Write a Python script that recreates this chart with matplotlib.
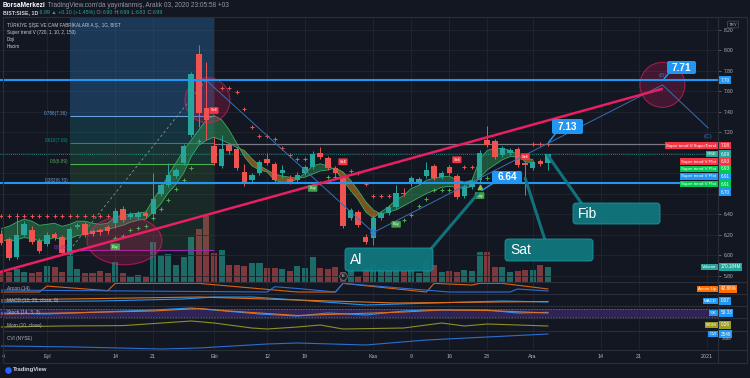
"""TradingView style snapshot: BIST:SISE daily with super trend cloud, fib and callouts."""

import numpy as np
import matplotlib
matplotlib.use("Agg")
import matplotlib.pyplot as plt
from matplotlib.patches import Ellipse, FancyBboxPatch, ConnectionPatch
from matplotlib.offsetbox import TextArea, HPacker, AnchoredOffsetbox

plt.rcParams["font.family"] = ["Liberation Sans", "DejaVu Sans"]

W, H = 750, 378
BG = "#131722"
UP, DN = "#26a69a", "#ef5350"
VOL_UP, VOL_DN = "#1d6b66", "#7f383c"
GRID = "#22262f"
TXT = "#b2b5be"
GRAY = "#9598a1"
BLUE = "#2196f3"
CALLOUT = "#10777f"
PINK = "#e91e63"

# ---- daily bars, index 0 = 1 Eylul 2020 (trading days) ----
bar_idx = list(range(-6, 67))
opens = [6.21, 6.16, 5.98, 6.20, 6.24, 6.14, 6.11, 6.21, 6.18, 6.02,
         6.27, 6.30, 6.23, 6.24, 6.27, 6.31, 6.45, 6.37, 6.37, 6.41,
         6.40, 6.60, 6.68, 6.77, 6.90, 7.17, 7.96, 7.43, 7.06, 6.87,
         7.07, 7.03, 6.81, 6.73, 6.80, 6.94, 6.89, 6.80, 6.74, 6.73,
         6.80, 6.86, 7.00, 6.95, 6.85, 6.75, 6.36, 6.42, 6.18, 6.17,
         6.36, 6.41, 6.47, 6.61, 6.69, 6.70, 6.77, 6.87, 6.76, 6.86,
         6.77, 6.58, 6.66, 6.73, 7.12, 7.11, 6.98, 7.00, 7.03, 6.90,
         6.85, 6.92, 6.90]
highs = [6.24, 6.18, 6.41, 6.33, 6.28, 6.17, 6.22, 6.22, 6.20, 6.27,
         6.31, 6.32, 6.25, 6.26, 6.29, 6.46, 6.48, 6.42, 6.43, 6.43,
         6.80, 6.70, 6.90, 6.85, 7.08, 7.79, 8.05, 7.88, 7.15, 7.17,
         7.09, 7.05, 6.89, 6.80, 6.93, 7.00, 6.91, 6.88, 6.78, 6.81,
         6.88, 7.01, 7.05, 6.97, 6.87, 6.77, 6.46, 6.44, 6.21, 6.39,
         6.43, 6.49, 6.68, 6.65, 6.77, 6.76, 6.91, 6.89, 6.82, 6.88,
         6.79, 6.69, 6.74, 7.02, 7.26, 7.13, 7.06, 7.04, 7.05, 6.92,
         6.93, 6.94, 6.99]
lows = [6.10, 5.95, 5.96, 6.19, 6.11, 6.02, 6.09, 6.15, 6.00, 6.00,
        6.25, 6.18, 6.19, 6.20, 6.21, 6.26, 6.32, 6.35, 6.35, 6.36,
        6.38, 6.58, 6.66, 6.75, 6.88, 7.15, 7.25, 7.12, 6.88, 6.85,
        6.99, 6.83, 6.67, 6.71, 6.78, 6.88, 6.71, 6.75, 6.69, 6.71,
        6.78, 6.84, 6.94, 6.83, 6.78, 6.26, 6.34, 6.27, 6.11, 6.10,
        6.34, 6.39, 6.45, 6.58, 6.67, 6.68, 6.75, 6.73, 6.74, 6.78,
        6.55, 6.56, 6.64, 6.71, 7.05, 6.94, 6.96, 6.98, 6.86, 6.59,
        6.83, 6.87, 6.83]
closes = [6.12, 5.97, 6.20, 6.30, 6.13, 6.04, 6.20, 6.17, 6.02, 6.25,
          6.29, 6.20, 6.21, 6.22, 6.23, 6.43, 6.34, 6.40, 6.41, 6.38,
          6.55, 6.68, 6.78, 6.83, 7.06, 7.77, 7.39, 7.32, 6.90, 7.03,
          7.01, 6.85, 6.69, 6.78, 6.91, 6.90, 6.73, 6.83, 6.71, 6.78,
          6.86, 6.99, 6.96, 6.85, 6.80, 6.28, 6.44, 6.29, 6.13, 6.36,
          6.41, 6.47, 6.61, 6.60, 6.75, 6.74, 6.83, 6.75, 6.80, 6.80,
          6.57, 6.67, 6.72, 7.00, 7.07, 6.96, 7.04, 7.02, 6.88, 6.88,
          6.91, 6.89, 6.99]
volume_m = [113, 113, 147, 113, 102, 113, 181, 170, 113, 339,
            147, 102, 102, 124, 102, 226, 102, 57, 79, 57,
            452, 305, 316, 192, 283, 509, 599, 746, 328, 362,
            192, 192, 181, 215, 215, 158, 158, 147, 124, 181,
            158, 283, 158, 147, 170, 113, 136, 57, 158, 215,
            158, 136, 181, 124, 170, 102, 249, 192, 113, 124,
            113, 136, 124, 339, 339, 170, 170, 113, 124, 136,
            136, 192, 170]

# super trend cloud (bars -6 .. 64)
cloud_fast = [6.26, 6.28, 6.32, 6.35, 6.33, 6.29, 6.30, 6.31, 6.28, 6.30,
              6.33, 6.33, 6.31, 6.30, 6.31, 6.37, 6.39, 6.40, 6.41, 6.42,
              6.54, 6.65, 6.78, 6.90, 7.02, 7.12, 7.22, 7.32, 7.36, 7.32,
              7.22, 7.09, 6.96, 6.87, 6.83, 6.81, 6.73, 6.71, 6.71, 6.74,
              6.80, 6.87, 6.89, 6.87, 6.83, 6.73, 6.63, 6.54, 6.42, 6.36,
              6.42, 6.47, 6.54, 6.58, 6.65, 6.68, 6.73, 6.75, 6.76, 6.77,
              6.73, 6.71, 6.73, 6.93, 7.02, 7.04, 7.04, 7.02, 6.98, 6.91,
              6.90]
cloud_slow = [6.15, 6.13, 6.15, 6.17, 6.16, 6.14, 6.15, 6.17, 6.15, 6.16,
              6.19, 6.20, 6.22, 6.24, 6.25, 6.27, 6.29, 6.32, 6.34, 6.35,
              6.42, 6.50, 6.61, 6.69, 6.80, 6.96, 7.07, 7.12, 7.15, 7.12,
              7.09, 7.05, 7.02, 6.94, 6.87, 6.83, 6.79, 6.77, 6.76, 6.75,
              6.76, 6.79, 6.82, 6.83, 6.85, 6.81, 6.73, 6.63, 6.52, 6.44,
              6.40, 6.42, 6.44, 6.48, 6.52, 6.56, 6.60, 6.63, 6.66, 6.67,
              6.66, 6.65, 6.67, 6.75, 6.83, 6.88, 6.93, 6.96, 6.96, 6.95,
              6.93]

st_up_idx = [9, 10, 11, 12, 13, 14, 15, 16, 17, 18, 19, 20,
             36, 37, 38, 47, 48, 49, 50, 51, 52, 53, 58, 59, 60, 61, 62]
st_up_val = [6.17, 6.19, 6.24, 6.26, 6.28, 6.36, 6.45, 6.54, 6.64, 6.73, 6.85, 7.11,
             6.70, 6.76, 6.76, 6.34, 6.39, 6.48, 6.55, 6.63, 6.63, 6.63,
             6.75, 6.75, 6.75, 6.75, 6.75]
st_dn_idx = [-6, -5, -4, -3, -2, -1, 0, 1, 2, 3, 4, 5, 6, 7, 8,
             23, 24, 25, 26, 27, 28, 29, 30, 31, 32, 33, 34,
             40, 41, 42, 43, 44, 45, 55, 56, 64, 65, 66]
st_dn_val = [6.38, 6.38, 6.38, 6.38, 6.38, 6.38, 6.38, 6.38, 6.38, 6.38, 6.38, 6.38, 6.38, 6.38, 6.38,
             7.63, 7.63, 7.59, 7.42, 7.25, 7.16, 7.16, 7.13, 7.04, 6.98, 6.94, 6.94,
             6.82, 6.80, 6.69, 6.58, 6.58, 6.58, 6.86, 6.86, 7.08, 7.08, 7.08]

buy_x, buy_y = [9, 35, 46, 57], [6.08, 6.65, 6.30, 6.58]
sell_x, sell_y = [22, 39, 54, 63], [7.41, 6.91, 6.93, 6.96]

# fib retracement
fib_levels = [0, 0.382, 0.5, 0.618, 0.786]
fib_prices = [6.05, 6.70, 6.89, 7.09, 7.36]
fib_x0, fib_x1 = 3, 22

# drawings
pink_x, pink_y = [-6.19, 81.0], [5.834, 7.62]
abc_x, abc_y = [21.2, 43, 81.1, 87.1], [7.69, 6.22, 7.66, 7.24]
zones = [(21.15, 7.51, 5.93, 0.44), (81.09, 7.66, 5.93, 0.44), (10.21, 6.14, 9.88, 0.47)]

# indicator panes (vertices)
aroon_up_x = [-6, -1, 0, 8, 9, 20, 30, 33, 38, 39, 50, 51, 56, 57, 60, 66]
aroon_up_y = [14, 14, 71, 27, 97, 97, 33, 14, 14, 97, 14, 97, 81, 97, 97, 43]
aroon_dn_x = [-6, 20, 29, 30, 33, 38, 39, 53, 61, 62, 66]
aroon_dn_y = [33, 19, 14, 65, 48, 14, 97, 14, 14, 43, 24]
macd_x = [-6, 7, 18, 22, 27, 33, 42, 60, 66]
macd_y = [-0.04, -0.02, 0.02, 0.06, 0.06, 0.0, -0.10, -0.02, -0.04]
signal_x = [-6, 20, 33, 46, 66]
signal_y = [0.0, 0.06, 0.0, -0.06, -0.03]
stoch_k_x = [-6, 0, 7, 14, 19, 22, 28, 33, 37, 42, 47, 50, 58, 62, 66]
stoch_k_y = [48, 40, 56, 72, 88, 72, 40, 24, 48, 32, 64, 72, 72, 48, 53]
stoch_d_x = [-6, 2, 14, 20, 24, 33, 39, 47, 52, 58, 66]
stoch_d_y = [40, 48, 64, 84, 64, 28, 40, 56, 72, 68, 48]
mom_x = [-6, 2, 10, 19, 22, 27, 29, 33, 36, 39, 47, 50, 52, 55, 58, 66]
mom_y = [-0.10, -0.05, -0.03, 0.20, 0.10, -0.15, -0.20, -0.10, 0.0, -0.20,
         -0.15, 0.0, 0.10, -0.05, 0.05, -0.05]
cvi_x = [-6, 4, 15, 20, 29, 33, 42, 50, 58, 66]
cvi_y = [2428, 2418, 2398, 2408, 2448, 2458, 2438, 2488, 2518, 2548]

date_ticks = [-5.8, 0, 9, 14, 22, 29, 34, 43, 48, 53, 58, 64, 73, 78, 87]
date_labels = ["4", "Eyl", "14", "21", "Eki", "12", "19", "Kas", "9", "16", "23",
               "Ara", "14", "21", "2021"]

XLIM = (-6.19, 88.41)
YLIM = (5.737, 8.322)


def rect(y0, y1, x0=0, x1=718):
    return [x0 / W, 1 - y1 / H, (x1 - x0) / W, (y1 - y0) / H]


fig = plt.figure(figsize=(W / 100, H / 100), dpi=100, facecolor=BG)

# ---- main price pane ----
ax = fig.add_axes(rect(17, 282))
axv = ax.twinx()
ax.set_zorder(axv.get_zorder() + 1)
ax.patch.set_visible(False)

o, c = np.array(opens), np.array(closes)
is_up = c >= o
cols = np.where(is_up, UP, DN)

axv.bar(bar_idx, volume_m, width=0.8, color=np.where(is_up, VOL_UP, VOL_DN), lw=0)
axv.set_ylim(0, 2995)
axv.axis("off")

ax.set_xlim(XLIM)
ax.set_ylim(YLIM)
for s in ax.spines.values():
    s.set_visible(False)
ax.set_xticks(date_ticks)
ax.tick_params(axis="x", length=0, labelbottom=False)
ax.yaxis.tick_right()
price_ticks = np.round(np.arange(5.8, 8.21, 0.2), 2)
hidden = {6.6, 6.8, 7.0}
ax.set_yticks(price_ticks)
ax.set_yticklabels(["" if t in hidden else f"{t:.2f}" for t in price_ticks])
ax.tick_params(axis="y", length=2.5, width=0.5, color="#787b86", labelsize=3.5,
               labelcolor=TXT, pad=1.5)
ax.grid(True, color=GRID, lw=0.6)
ax.set_axisbelow(True)

# fib bands
edges = fib_prices + [YLIM[1]]
band_style = [("#4caf50", 0.12), ("#4caf50", 0.16), ("#2e9e6e", 0.2), ("#1e8f9f", 0.24), ("#2a6fb0", 0.38)]
for lo, hi, (fc, a) in zip(edges[:-1], edges[1:], band_style):
    ax.fill_between([fib_x0, fib_x1], lo, hi, color=fc, alpha=a, lw=0, zorder=0.8)
fib_cols = ["#9c27b0", "#7f9cc0", "#4caf50", "#009688", "#6a9fd8"]
ax.hlines(fib_prices, fib_x0, fib_x1, colors=fib_cols, lw=0.8, zorder=1)
for lvl, p, col in zip(fib_levels, fib_prices, fib_cols):
    ax.text(fib_x0 - 0.2, p + 0.025, f"{lvl:g}({p:.2f})", ha="right", va="center",
            fontsize=3.3, color=col, zorder=5)
ax.plot([fib_x0, 21], [fib_prices[0], 7.71], color="#8a8f9c", lw=0.6, ls=(0, (3, 3)), zorder=1.2)

# horizontal levels
ax.axhline(7.71, color=BLUE, lw=1.5, zorder=4)
ax.axhline(6.70, color=BLUE, lw=1.5, zorder=4)
ax.hlines(7.08, 22, XLIM[1], color="#787b86", lw=0.9, zorder=2)
ax.axhline(closes[-1], color=UP, lw=0.6, ls=(0, (1, 1.5)), zorder=2)

# super trend cloud
cx = np.array(bar_idx[:len(cloud_fast)])
f, sl = np.array(cloud_fast), np.array(cloud_slow)
ax.fill_between(cx, f, sl, where=f >= sl, interpolate=True, color="#2e9e58", alpha=0.45, lw=0, zorder=1.5)
ax.fill_between(cx, f, sl, where=f < sl, interpolate=True, color="#e8901c", alpha=0.5, lw=0, zorder=1.5)
ax.plot(cx, f, color="#3fa866", lw=0.6, zorder=1.6)
ax.plot(cx, sl, color="#3fa866", lw=0.6, zorder=1.6)

# marked zones
for zx, zy, zw, zh in zones:
    ax.add_patch(Ellipse((zx, zy), zw, zh, facecolor=(0.91, 0.12, 0.39, 0.22),
                         edgecolor=(0.91, 0.12, 0.39, 0.6), lw=0.8, zorder=2.5))

# candles
ax.vlines(bar_idx, lows, highs, colors=cols, lw=0.7, zorder=3)
body = np.maximum(np.abs(c - o), 0.006)
ax.bar(bar_idx, body, bottom=np.minimum(o, c), width=0.72, color=cols, lw=0, zorder=3.1)

# trend lines
ax.plot(pink_x, pink_y, color=PINK, lw=1.8, zorder=4.2)
ax.plot(abc_x, abc_y, color="#3a6db5", lw=0.7, zorder=3.6)
ax.text(abc_x[2], 7.75, "(B)", fontsize=4.5, color="#3b6db5", ha="center", va="center", zorder=5)
ax.text(abc_x[3], 7.16, "(C)", fontsize=4.5, color="#3b6db5", ha="center", va="center", zorder=5)
ax.scatter([abc_x[1]], [abc_y[1]], s=14, facecolor="none", edgecolor="#2962ff", lw=0.6, zorder=5)

# super trend markers and signals
ax.scatter(st_up_idx, st_up_val, marker="+", s=7, linewidths=0.7, color="#4caf50", zorder=3.5)
ax.scatter(st_dn_idx, st_dn_val, marker="+", s=7, linewidths=0.7, color=DN, zorder=3.5)
for x, y in zip(sell_x, sell_y):
    ax.text(x, y, "Sell", fontsize=2.8, color="white", ha="center", va="center", zorder=6,
            bbox=dict(boxstyle="round,pad=0.35,rounding_size=0.2", fc="#f23645", ec="none"))
for x, y in zip(buy_x, buy_y):
    ax.text(x, y, "Buy", fontsize=2.8, color="white", ha="center", va="center", zorder=6,
            bbox=dict(boxstyle="round,pad=0.35,rounding_size=0.2", fc="#43a047", ec="none"))
ax.scatter([57], [6.66], marker="^", s=10, color="#8bc34a", zorder=6)
ax.scatter([39], [5.80], s=30, facecolor="#1e222d", edgecolor="#787b86", lw=0.5, zorder=6)
ax.text(39, 5.80, "E", fontsize=3, color="white", ha="center", va="center", zorder=7)


# ---- indicator panes ----
def sub_pane(y0, y1, ylim):
    a = fig.add_axes(rect(y0, y1), facecolor="none")
    a.set_xlim(XLIM)
    a.set_ylim(*ylim)
    a.set_xticks(date_ticks)
    a.set_yticks([])
    a.tick_params(axis="x", length=0, labelbottom=False)
    a.grid(axis="x", color=GRID, lw=0.6)
    for s in a.spines.values():
        s.set_visible(False)
    return a


a_ar = sub_pane(282, 294, (-5, 110))
a_ar.plot(aroon_up_x, aroon_up_y, color="#d8640f", lw=0.8)
a_ar.plot(aroon_dn_x, aroon_dn_y, color="#2d6fd6", lw=0.8)

a_macd = sub_pane(294, 306, (-0.12, 0.12))
a_macd.plot(macd_x, macd_y, color=BLUE, lw=0.8)
a_macd.plot(signal_x, signal_y, color="#e0701a", lw=0.8)

a_st = sub_pane(306, 318, (8, 104))
a_st.axhspan(20, 80, color="#673ab7", alpha=0.35, lw=0)
a_st.axhline(20, color="#787b86", lw=0.5, ls=(0, (2, 2)))
a_st.axhline(80, color="#787b86", lw=0.5, ls=(0, (2, 2)))
a_st.plot(stoch_k_x, stoch_k_y, color=BLUE, lw=0.8)
a_st.plot(stoch_d_x, stoch_d_y, color="#e0701a", lw=0.8)

a_mom = sub_pane(318, 331, (-0.30, 0.35))
a_mom.plot(mom_x, mom_y, color="#8f8f22", lw=0.8)

a_cvi = sub_pane(331, 350, (2388, 2578))
a_cvi.plot(cvi_x, cvi_y, color="#2a6fd0", lw=0.8)
a_cvi.set_xticklabels(date_labels)
a_cvi.tick_params(axis="x", labelbottom=True, labelsize=3.9, labelcolor=TXT, pad=3.1)

# ---- overlay in pixel units: frame, labels, callouts ----
ov = fig.add_axes([0, 0, 1, 1])
ov.set_xlim(0, W)
ov.set_ylim(H, 0)
ov.axis("off")
ov.set_zorder(ax.get_zorder() + 5)

ov.hlines([17, 282, 294, 306, 318, 331, 350, 363], 3, 747, color="#2a2e39", lw=0.8)
ov.vlines([3, 718, 747], 17, 363, color="#2a2e39", lw=0.8)


def text_row(parts, x, y, size):
    boxes = [TextArea(t, textprops=dict(color=col, fontsize=size, fontweight=w)) for t, col, w in parts]
    row = HPacker(children=boxes, align="baseline", pad=0, sep=0)
    ov.add_artist(AnchoredOffsetbox(loc="center left", child=row, pad=0, borderpad=0, frameon=False,
                                    bbox_to_anchor=(x, y), bbox_transform=ov.transData))


text_row([("BorsaMerkezi", "white", "bold"),
          (" TradingView.com'da yayınlanmış, Aralık 03, 2020 23:05:58 +03", GRAY, "normal")], 3, 5.8, 4.7)
text_row([("BIST:SISE, 1D", "#d1d4dc", "bold"), (" 6.99 ▲ +0.10 (+1.45%)", UP, "normal"),
          (" O:", GRAY, "normal"), ("6.90", UP, "normal"), (" H:", GRAY, "normal"), ("6.99", UP, "normal"),
          (" L:", GRAY, "normal"), ("6.83", UP, "normal"), (" C:", GRAY, "normal"), ("6.99", UP, "normal")],
         3, 12.3, 3.8)

for y, t in [(25, "TÜRKİYE ŞİŞE VE CAM FABRİKALARI A.Ş., 1G, BIST"),
             (32.8, "Super trend V (720, 1, 10, 2, 150)"), (39.5, "Doji"), (46.5, "Hacim")]:
    ov.text(7, y, t, fontsize=3.3, color="#c8cbd3", va="center")
for y, t in [(288.5, "Aroon (14)"), (300.5, "MACD (12, 26, close, 9)"), (312.5, "Stoch (14, 3, 3)"),
             (325, "Mom (10, close)"), (338.5, "CVI (NYSE)")]:
    ov.text(7, y, t, fontsize=3.4, color=TXT, va="center")

ov.text(733, 24.5, "TRY", fontsize=3.2, color=TXT, ha="center", va="center",
        bbox=dict(boxstyle="round,pad=0.3", fc=BG, ec="#4a4e59", lw=0.5))

right_labels = [
    (80, "", "7.70", BLUE),
    (145.5, "Super trend V:SuperTrend", "7.08", "#f23645"),
    (154, "SISE", "6.99", UP),
    (161.5, "Super trend V:Plot", "6.93", "#f23645"),
    (169, "Super trend V:Plot", "6.93", "#00c853"),
    (176.5, "Super trend V:Plot", "6.91", BLUE),
    (184, "Super trend V:Plot", "6.91", "#00c853"),
    (192, "", "6.70", BLUE),
    (267, "Volume", "170.184M", UP),
    (289, "Aroon Up", "42.86%", "#ff6d00"),
    (301, "MACD", "0.07", BLUE),
    (313, "%K", "53.33", BLUE),
    (325, "MOM", "0.26", "#9e9d24"),
    (334, "CVI", "2548", BLUE),
]
for y, name, val, col in right_labels:
    if name:
        ov.text(716.5, y, name, ha="right", va="center", fontsize=3.2, color="white",
                bbox=dict(boxstyle="square,pad=0.25", fc=col, ec="none"))
    ov.text(720.5, y, val, ha="left", va="center", fontsize=3.3, color="white",
            bbox=dict(boxstyle="square,pad=0.25", fc=col, ec="none"))
ov.text(722, 339.5, "2488", fontsize=3.2, color=TXT, va="center")

# callouts: text, box (x0, y0, x1, y1) px, tip (bar, price), pointer base px
text_callouts = [("Al", (345, 248, 433, 271), (56.8, 6.60), (430, 250)),
                 ("Sat", (505, 239, 593, 261), (63.0, 6.75), (545, 240)),
                 ("Fib", (573, 203, 660, 224), (66.0, 6.97), (582, 204))]
price_callouts = [("7.13", (552, 119, 583, 134), (66.1, 7.10), (556, 133)),
                  ("6.64", (492, 171, 522, 183), (57.3, 6.63), (495, 182)),
                  ("7.71", (667, 61, 696, 74), (81.2, 7.71), (669, 73))]

for t, (x0, y0, x1, y1), tip, base in text_callouts:
    ov.add_artist(ConnectionPatch(xyA=base, coordsA=ov.transData, xyB=tip, coordsB=ax.transData,
                                  color=CALLOUT, lw=2.2, alpha=0.95))
    ov.add_patch(FancyBboxPatch((x0, y0), x1 - x0, y1 - y0, boxstyle="round,pad=0,rounding_size=3",
                                fc=CALLOUT, ec="#1a9aa5", lw=0.6, alpha=0.95))
    ov.text(x0 + 5, (y0 + y1) / 2 + 0.5, t, fontsize=10, color="white", va="center", ha="left")

for t, (x0, y0, x1, y1), tip, base in price_callouts:
    ov.add_artist(ConnectionPatch(xyA=base, coordsA=ov.transData, xyB=tip, coordsB=ax.transData,
                                  color=BLUE, lw=1.0))
    ov.add_patch(FancyBboxPatch((x0, y0), x1 - x0, y1 - y0, boxstyle="round,pad=0,rounding_size=2",
                                fc=BLUE, ec="none"))
    ov.text((x0 + x1) / 2, (y0 + y1) / 2 + 0.3, t, fontsize=7.2, fontweight="bold", color="white",
            va="center", ha="center")

# logo
ov.scatter([8], [370], s=14, color="#2962ff", marker="o")
ov.text(13, 370, "TradingView", fontsize=4.2, fontweight="bold", color="#d1d4dc", va="center")

fig.savefig("out.png", dpi=100, facecolor=BG)
plt.close(fig)
